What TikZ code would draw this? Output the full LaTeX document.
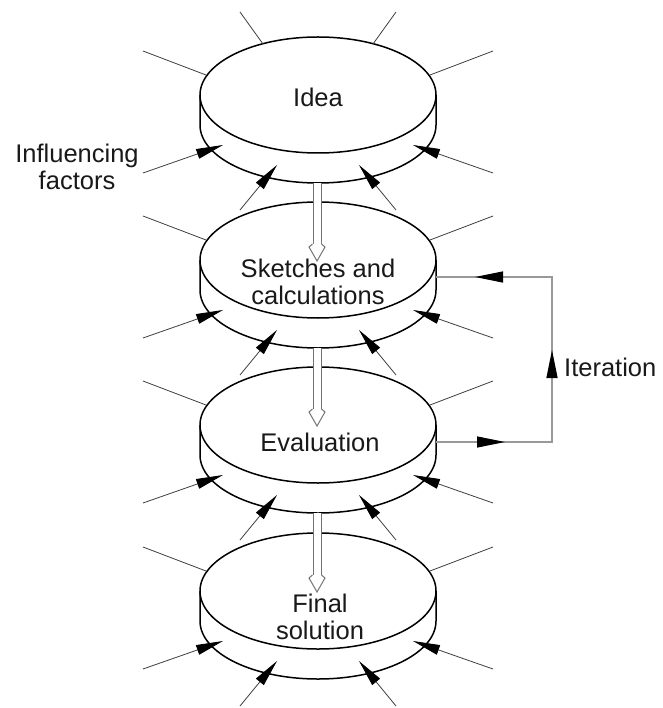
\documentclass[tikz,border=0pt]{standalone}
\usepackage{fontspec}
\setmainfont{Liberation Sans}
\usetikzlibrary{arrows.meta}
\newcommand\drawdisk[3]{%
  \coordinate (#1) at (318,#2);
  \fill[white] (318,#2) ellipse[x radius=118, y radius=58];
  \fill[white] (200,#2) -- (200,{#2+30}) arc[start angle=180,end angle=0,x radius=118,y radius=58] -- (436,#2) -- cycle;
  \draw[diskline] (318,#2) ellipse[x radius=118, y radius=58];
  \draw[diskline] (200,#2) -- (200,{#2+30}) arc[start angle=180,end angle=0,x radius=118,y radius=58] -- (436,#2);
}
\newcommand\influence[2]{%
  \coordinate (#1-ula) at (143,{#2-44}); \coordinate (#1-ulb) at (206,{#2-20});
  \coordinate (#1-ura) at (493,{#2-44}); \coordinate (#1-urb) at (430,{#2-20});
  \coordinate (#1-lla) at (143,{#2+78}); \coordinate (#1-llb) at (223,{#2+50});
  \coordinate (#1-lra) at (493,{#2+78}); \coordinate (#1-lrb) at (413,{#2+50});
  \coordinate (#1-bla) at (240,{#2+115}); \coordinate (#1-blb) at (277,{#2+70});
  \coordinate (#1-bra) at (396,{#2+115}); \coordinate (#1-brb) at (359,{#2+70});
  \draw[inf] (#1-ula) -- (#1-ulb);
  \draw[inf] (#1-ura) -- (#1-urb);
  \draw[infarrow] (#1-lla) -- (#1-llb);
  \draw[infarrow] (#1-lra) -- (#1-lrb);
  \draw[infarrow] (#1-bla) -- (#1-blb);
  \draw[infarrow] (#1-bra) -- (#1-brb);
}
\newcommand\downshaft[3]{%
  \coordinate (#1-s) at (317,{#2+88});
  \coordinate (#1-e) at (317,{#3-16});
  \draw[shaft] (#1-s) -- (#1-e);
  \filldraw[fill=white, draw=black!55, line width=1pt] (312.5,{#3-16}) -- (309,{#3-13}) -- (317,{#3+1}) -- (325,{#3-13}) -- (321.5,{#3-16});
}
\begin{document}
\begin{tikzpicture}[x=1pt,y=-1pt,
  diskline/.style={line width=1.5pt, draw=black},
  inf/.style={line width=0.8pt, draw=black!75},
  infarrow/.style={inf, -{Triangle[length=27pt,width=10pt,color=black]}},
  iterline/.style={line width=1.2pt, draw=black!40},
  iterhead/.style={iterline, -{Triangle[length=28pt,width=11pt,color=black]}},
  lbl/.style={font=\fontsize{25.5}{27}\selectfont, align=center, text=black!90, inner sep=0pt},
  shaft/.style={draw=black!55, line width=1pt, double=white, double distance=7pt},
  ]
\useasboundingbox (0,0) rectangle (662,708);
\fill[white] (0,0) rectangle (662,708);

\drawdisk{d1}{95}{Idea}
\drawdisk{d2}{260}{}
\drawdisk{d3}{425}{}
\drawdisk{d4}{591}{}

\node[lbl] (t1) at (318,97) {Idea};
\node[lbl] (t2) at (318,282) {Sketches and\\calculations};
\node[lbl] (t3) at (320,442) {Evaluation};
\node[lbl] (t4) at (320,617) {Final\\solution};

% top lines of first disk
\coordinate (tla) at (240,12); \coordinate (tlb) at (263,44);
\coordinate (tra) at (396,12); \coordinate (trb) at (373,44);
\draw[inf] (tla) -- (tlb);
\draw[inf] (tra) -- (trb);

\influence{i1}{95}
\influence{i2}{260}
\influence{i3}{425}
\influence{i4}{591}

\downshaft{a1}{95}{260}
\downshaft{a2}{260}{425}
\downshaft{a3}{425}{591}

% iteration loop
\coordinate (itA) at (436,442);
\coordinate (itB) at (552,442);
\coordinate (itC) at (552,277);
\coordinate (itD) at (436,277);
\coordinate (itAh) at (505,442);
\coordinate (itBh) at (552,350);
\coordinate (itCh) at (475,277);
\draw[iterline] (itA) -- (itB) -- (itC) -- (itD);
\draw[iterhead] (itA) -- (itAh);
\draw[iterhead] (itB) -- (itBh);
\draw[iterhead] (itC) -- (itCh);

\node[lbl, anchor=west] (iter) at (564,367) {Iteration};
\node[lbl] (infl) at (77,167) {Influencing\\factors};
\end{tikzpicture}
\end{document}
